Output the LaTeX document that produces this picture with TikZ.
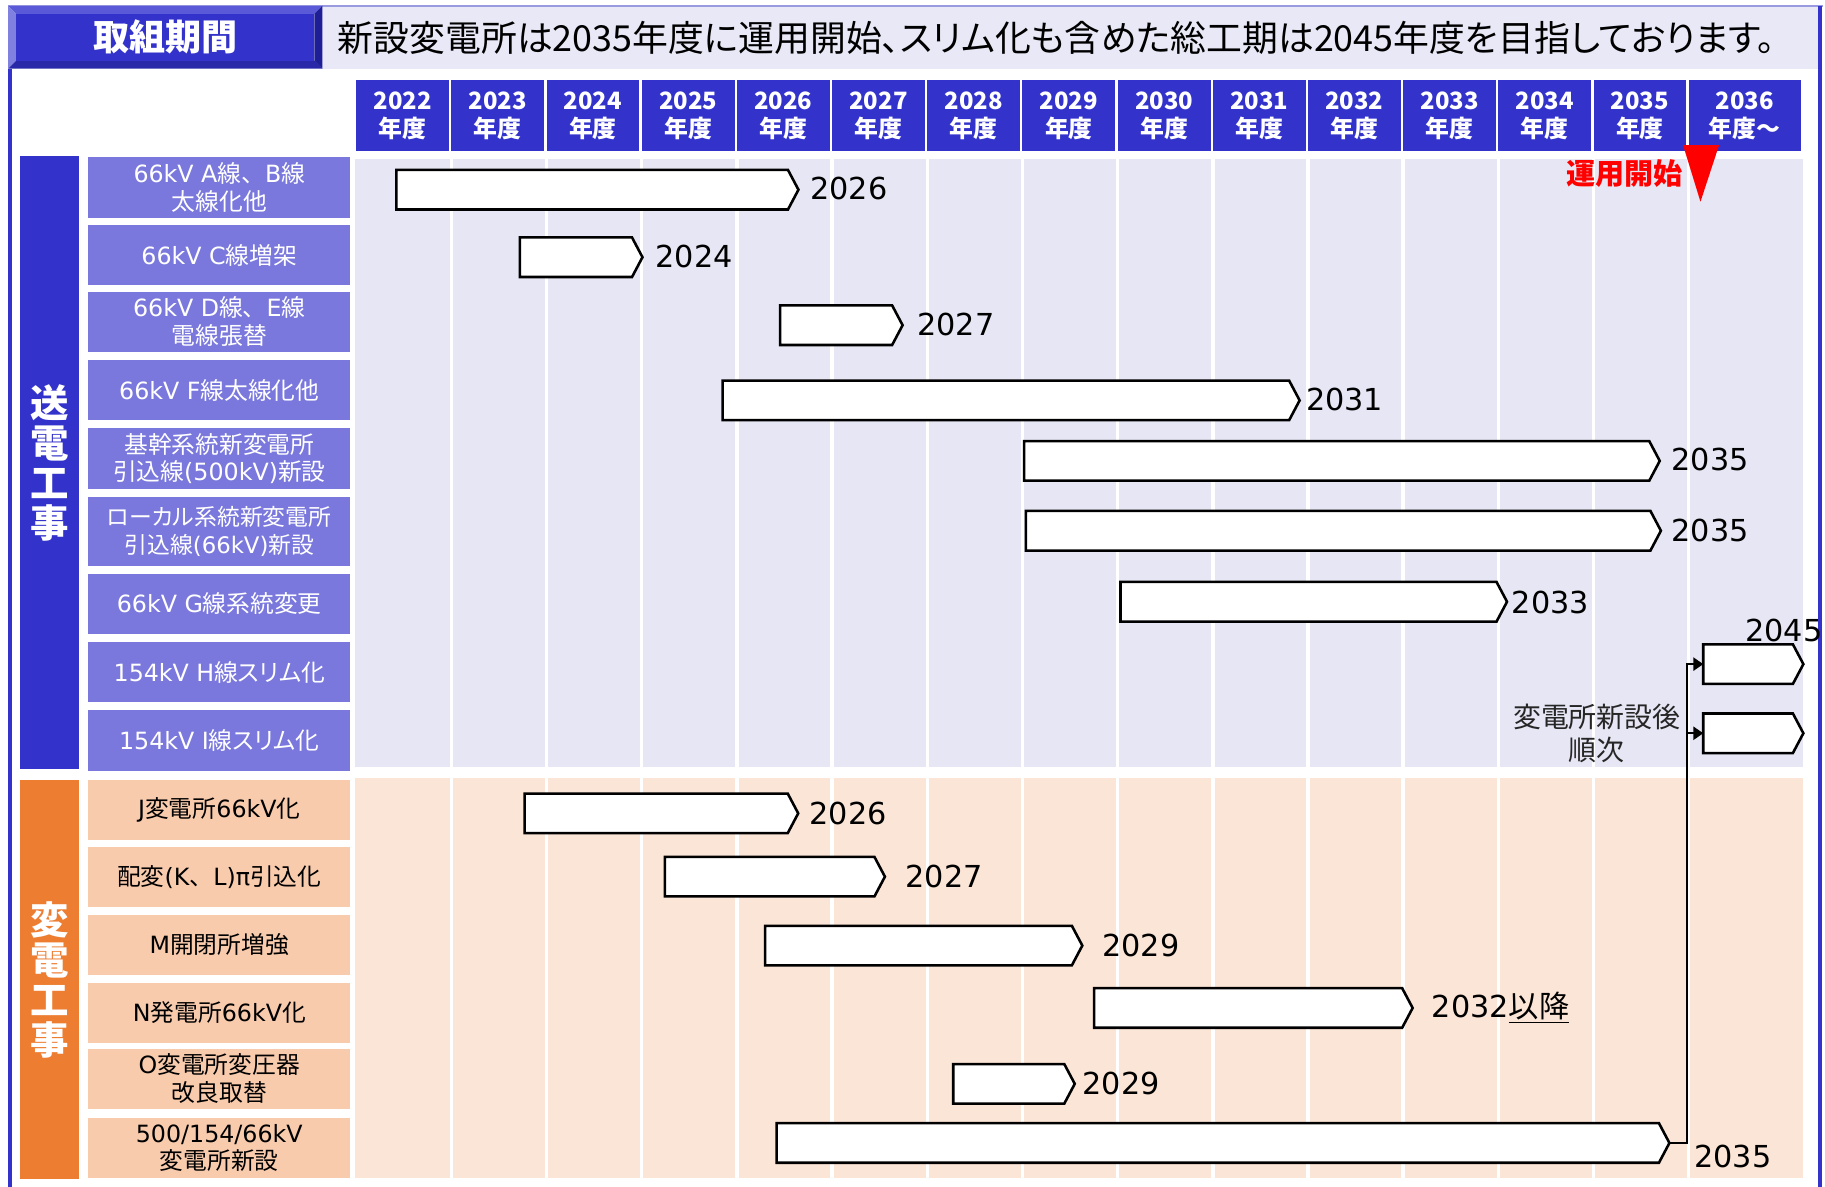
\documentclass[tikz,border=0pt]{standalone}
\usepackage{fontspec}
\setmainfont{Noto Sans CJK JP}[RawFeature={+palt}]
\newfontfamily\jpn{Noto Sans CJK JP}
\newfontfamily\lat{DejaVu Sans}
\usetikzlibrary{arrows.meta}
\definecolor{navy}{HTML}{3333CC}
\definecolor{rowblue}{HTML}{7A78DC}
\definecolor{lav}{HTML}{E6E6F4}
\definecolor{hdrlav}{HTML}{E8E8F6}
\definecolor{hdrline}{HTML}{9A9AE0}
\definecolor{peach}{HTML}{F8CBAD}
\definecolor{lpeach}{HTML}{FBE5D6}
\definecolor{orng}{HTML}{ED7D31}
\definecolor{bevT}{HTML}{5A5AD8}
\definecolor{bevL}{HTML}{8080E0}
\definecolor{bevB}{HTML}{2828A8}
\definecolor{bevR}{HTML}{1E1E96}
\newcommand\fsz[2]{\fontsize{#1bp}{#2bp}\selectfont}
\newcommand\tou{{\jpn 、}}
\newcommand\gbar[4]{%
  \node[barbody, minimum width=#3bp] (#1) at (#2,#4) {};
  \draw[barline] (#1.north west) -- (#1.north east) -- ([xshift=9bp]#1.east) -- (#1.south east) -- (#1.south west) -- cycle;}
\tikzset{
  yearcell/.style={fill=navy, text=white, font=\bfseries\fsz{20.5}{23.5}, align=center, minimum height=61bp, inner sep=0pt, outer sep=0pt},
  catbar/.style={text=white, font=\bfseries\fsz{33}{34.4}, align=center, minimum width=51bp, inner sep=0pt, outer sep=0pt},
  rowlab/.style={minimum width=225bp, minimum height=51.7bp, inner sep=0pt, outer sep=0pt, align=center, font=\fsz{20.4}{24}},
  trow/.style={rowlab, fill=rowblue, text=white},
  srow/.style={rowlab, fill=peach, text=black},
  barbody/.style={inner sep=0pt, outer sep=0pt, minimum height=34bp, anchor=west},
  barline/.style={draw=black, fill=white, line width=2.2bp, line join=miter},
  barlab/.style={anchor=west, inner sep=0pt, font=\lat\fsz{26}{30}, text=black},
  conn/.style={draw=black, line width=1.7bp, -{Triangle[length=8.6bp,width=11.4bp]}},
}
\begin{document}
\begin{tikzpicture}[x=1bp,y=-1bp]
\useasboundingbox (0,0) rectangle (1568,1019);
\fill[white] (0,0) rectangle (1568,1019);

% header
\fill[hdrlav] (277,5) rectangle (1564,59);
\draw[hdrline, line width=1.2bp] (7,5) -- (1566,5);
\fill[bevT] (7,5) -- (277,5) -- (270,12) -- (14,12) -- cycle;
\fill[bevL] (7,5) -- (14,12) -- (14,52) -- (7,59) -- cycle;
\fill[bevB] (7,59) -- (14,52) -- (270,52) -- (277,59) -- cycle;
\fill[bevR] (277,5) -- (277,59) -- (270,52) -- (270,12) -- cycle;
\node[fill=navy, minimum width=256bp, minimum height=40bp, inner sep=0pt, text=white, font=\bfseries\fsz{31}{34}] (title) at (142,32) {取組期間};
\node[anchor=west, inner sep=0pt, font=\fsz{30.8}{34}] (headtxt) at (290,32.5) {新設変電所は2035年度に運用開始、スリム化も含めた総工期は2045年度を目指しております。};

% frame lines
\draw[navy, line width=3.4bp] (9,59) -- (9,1025);
\draw[navy, line width=3.4bp] (1564,5) -- (1564,1025);

% year header
\foreach \i in {0,...,13}{%
  \pgfmathtruncatemacro\yr{2022+\i}%
  \pgfmathsetmacro\cx{345.89+81.78*\i}%
  \node[yearcell, minimum width=79.8bp] (y\yr) at (\cx,99.5) {\yr\\年度};
}
\node[yearcell, minimum width=96bp] (y2036) at (1499,99.5) {2036\\年度～};

% grid
\fill[lav] (305,137) rectangle (1549,659);
\fill[lpeach] (305,668) rectangle (1549,1012);
\foreach \i in {1,...,14}{%
  \pgfmathsetmacro\gx{306+81.78*\i}%
  \draw[white, line width=3bp] (\gx,137) -- (\gx,1012);
}

% categories
\node[catbar, fill=navy, minimum height=527bp] (cat1) at (42.5,397.5) {送\\電\\工\\事};
\node[catbar, fill=orng, minimum height=342.5bp] (cat2) at (42.5,841.7) {変\\電\\工\\事};

% row labels
\node[trow] (r1) at (188.4,161.1) {{\lat 66kV A}線\tou{\lat B}線\\太線化他};
\node[trow] (r2) at (188.4,219.4) {{\lat 66kV C}線増架};
\node[trow] (r3) at (188.4,276.4) {{\lat 66kV D}線\tou{\lat E}線\\電線張替};
\node[trow] (r4) at (188.4,335.3) {{\lat 66kV F}線太線化他};
\node[trow] (r5) at (188.4,394) {基幹系統新変電所\\引込線{\lat (500kV)}新設};
\node[trow, minimum height=58.7bp, font=\fsz{19.6}{24}] (r6) at (188.4,456.6) {ローカル系統新変電所\\引込線{\lat (66kV)}新設};
\node[trow] (r7) at (188.4,518.9) {{\lat 66kV G}線系統変更};
\node[trow] (r8) at (188.4,577.7) {{\lat 154kV H}線スリム化};
\node[trow] (r9) at (188.4,636.2) {{\lat 154kV I}線スリム化};
\node[srow] (r10) at (188.4,696) {{\lat J}変電所{\lat 66kV}化};
\node[srow] (r11) at (188.4,753.3) {配変{\lat (K}\tou{\lat L)π}引込化};
\node[srow] (r12) at (188.4,811.9) {{\lat M}開閉所増強};
\node[srow] (r13) at (188.4,870.3) {{\lat N}発電所{\lat 66kV}化};
\node[srow] (r14) at (188.4,926.8) {{\lat O}変電所変圧器\\改良取替};
\node[srow] (r15) at (188.4,986.3) {{\lat 500/154/66kV}\\変電所新設};

% bars
\gbar{b1}{340.5}{336.5}{163}
\gbar{b2}{446.7}{96.3}{221}
\gbar{b3}{670.2}{96.3}{279.4}
\gbar{b4}{620.9}{486.7}{344}
\gbar{b5}{879.9}{537.1}{396}
\gbar{b6}{881.4}{536.6}{456}
\gbar{b7}{962.7}{323.1}{517}
\gbar{b8}{1463.4}{77}{570.6}
\gbar{b9}{1463.4}{77}{630}
\gbar{b10}{450.8}{226}{698.8}
\gbar{b11}{571.3}{180}{753.2}
\gbar{b12}{657.3}{263.6}{812.4}
\gbar{b13}{940}{264.7}{866}
\gbar{b14}{819}{95.4}{931.2}
\gbar{b15}{667.3}{758}{982}

% bar labels
\node[barlab] (l1) at (696,162) {2026};
\node[barlab] (l2) at (563,220) {2024};
\node[barlab] (l3) at (788,279) {2027};
\node[barlab] (l4) at (1122,343) {2031};
\node[barlab] (l5) at (1436,395) {2035};
\node[barlab] (l6) at (1436,456) {2035};
\node[barlab] (l7) at (1298.8,517.5) {2033};
\node[barlab] (l8) at (1499.3,541.3) {2045};
\node[barlab] (l10) at (695.4,699) {2026};
\node[barlab] (l11) at (777.8,753) {2027};
\node[barlab] (l12) at (947,812) {2029};
\node[barlab] (l13) at (1230,865.5) {2032{\normalfont\underline{以降}}};
\node[barlab] (l14) at (929.9,930.5) {2029};
\node[barlab] (l15) at (1455.5,993.8) {2035};

% connectors
\draw[conn] ([xshift=9bp]b15.east) -- ++(15.5,0) |- (b8.west);
\draw[conn] ([xshift=9bp]b15.east) -- ++(15.5,0) |- (b9.west);
\node[font=\fsz{24}{28.7}, align=center, inner sep=0pt, text=black!85] (note) at (1372,630) {変電所新設後\\順次};

% operation start marker
\fill[red] (1446,124.6) -- (1477,124.6) -- (1461,173.3) -- cycle;
\node[text=red, font=\bfseries\fsz{25}{28}, inner sep=0pt] (unyo) at (1395.6,149) {運用開始};
\end{tikzpicture}
\end{document}
